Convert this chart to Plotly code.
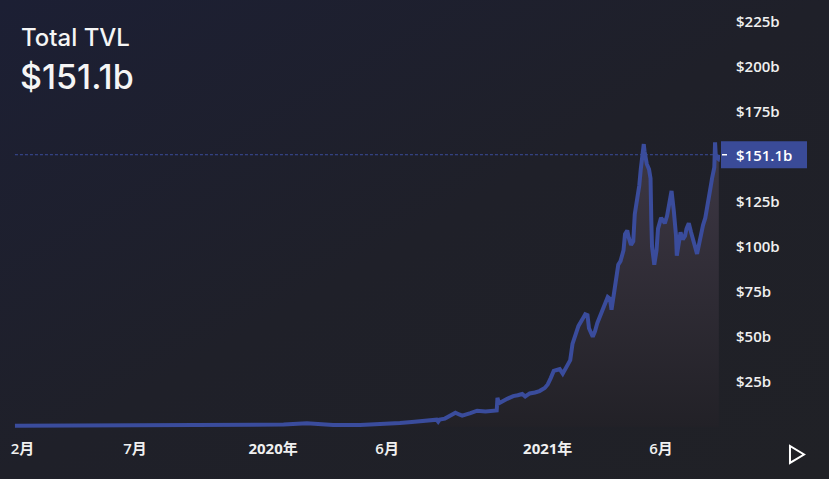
import base64
import plotly.graph_objects as go

# ---- data ----
dates = [
    "2019-01-22", "2019-03-01", "2019-05-01", "2019-07-01", "2019-09-01", "2019-11-01",
    "2019-12-15", "2020-01-15", "2020-02-15", "2020-03-03", "2020-03-13", "2020-03-21",
    "2020-04-26", "2020-06-01", "2020-06-18", "2020-07-04", "2020-07-19", "2020-08-01",
    "2020-08-06", "2020-08-08", "2020-08-10", "2020-08-17", "2020-08-26", "2020-08-31",
    "2020-09-05", "2020-09-09", "2020-09-20", "2020-09-29", "2020-10-10", "2020-10-21",
    "2020-10-25", "2020-10-26", "2020-10-28", "2020-11-08", "2020-11-16", "2020-11-22",
    "2020-11-28", "2020-12-02", "2020-12-08", "2020-12-15", "2020-12-21", "2020-12-28",
    "2021-01-01", "2021-01-05", "2021-01-09", "2021-01-13", "2021-01-17", "2021-01-21",
    "2021-01-25", "2021-01-31", "2021-02-03", "2021-02-07", "2021-02-11", "2021-02-16",
    "2021-02-20", "2021-02-23", "2021-02-25", "2021-03-02", "2021-03-05", "2021-03-08",
    "2021-03-12", "2021-03-15", "2021-03-19", "2021-03-22", "2021-03-25", "2021-03-27",
    "2021-03-31", "2021-04-02", "2021-04-05", "2021-04-08", "2021-04-12", "2021-04-14",
    "2021-04-17", "2021-04-19", "2021-04-22", "2021-04-25", "2021-04-27", "2021-04-30",
    "2021-05-03", "2021-05-05", "2021-05-08", "2021-05-09", "2021-05-10", "2021-05-13",
    "2021-05-16", "2021-05-18", "2021-05-19", "2021-05-20", "2021-05-23", "2021-05-26",
    "2021-05-28", "2021-06-01", "2021-06-03", "2021-06-06", "2021-06-09", "2021-06-11",
    "2021-06-14", "2021-06-15", "2021-06-18", "2021-06-21", "2021-06-22", "2021-06-25",
    "2021-06-27", "2021-06-30", "2021-07-03", "2021-07-05", "2021-07-08", "2021-07-11",
    "2021-07-13", "2021-07-16", "2021-07-19", "2021-07-21", "2021-07-24", "2021-07-27",
    "2021-07-30", "2021-08-01", "2021-08-04", "2021-08-06", "2021-08-08", "2021-08-11",
    "2021-08-12", "2021-08-13", "2021-08-16", "2021-08-17",
]
tvl_billion = [
    0.55, 0.6, 0.7, 0.8, 0.75, 0.8,
    0.9, 1.2, 1.9, 1.6, 0.9, 0.9,
    1.0, 1.5, 2.0, 2.6, 3.3, 3.8,
    3.9, 2.8, 4.0, 4.5, 6.5, 7.8,
    6.8, 6.2, 7.5, 8.9, 8.5, 8.6,
    9.0, 16.0, 13.0, 15.5, 17.0, 17.5,
    18.2, 16.8, 18.5, 19.0, 19.8, 21.5,
    23.5, 27, 31, 31.5, 32, 29.5,
    33, 37, 46, 52, 56, 59.5,
    62.5, 62, 54.7, 50, 53, 57.5,
    62, 65, 70, 72, 71, 65,
    76, 82, 90, 92, 98, 107,
    109, 105, 101, 103, 118, 126,
    134, 143, 152, 157, 153, 146,
    143, 138, 115, 100, 90, 98,
    110, 116, 115, 113, 117, 121,
    128, 131, 120, 106, 95, 104,
    108, 104, 106, 110, 113, 108,
    105, 102, 96, 100, 107, 112,
    116, 122, 127, 133, 138, 144,
    158, 150, 149, 151.1,
]
x_tick_dates = ["2019-02-01", "2019-07-01", "2020-01-01", "2020-06-01", "2021-01-01", "2021-06-01"]
x_tick_labels = ["2月", "7月", "<b>2020年</b>", "6月", "<b>2021年</b>", "6月"]
y_tick_values = [25, 50, 75, 100, 125, 150, 175, 200, 225]
y_tick_labels = ["$25b", "$50b", "$75b", "$100b", "$125b", "", "$175b", "$200b", "$225b"]
title_text = "Total TVL"
current_label = "$151.1b"

LINE = "#3a4c9c"
last_value = tvl_billion[-1]

fig = go.Figure()
fig.add_trace(go.Scatter(
    x=dates, y=tvl_billion, mode="lines",
    line=dict(color=LINE, width=4),
    fill="tozeroy",
    fillgradient=dict(type="vertical", start=0, stop=160,
                      colorscale=[[0, "#222127"], [1, "#3e3845"]]),
    hoverinfo="skip",
))

# background gradient
svg = ('<svg xmlns="http://www.w3.org/2000/svg" width="829" height="479">'
       '<defs><linearGradient id="g" x1="0" y1="0" x2="1" y2="1">'
       '<stop offset="0" stop-color="#1c1f34"/><stop offset="0.5" stop-color="#1f2029"/>'
       '<stop offset="1" stop-color="#202126"/></linearGradient></defs>'
       '<rect width="829" height="479" fill="url(#g)"/></svg>')
src = "data:image/svg+xml;base64," + base64.b64encode(svg.encode()).decode()

shapes = [
    dict(type="line", xref="x", yref="y", x0=dates[0], x1=dates[-1],
         y0=last_value, y1=last_value, line=dict(color=LINE, width=1, dash="3px,2px"),
         layer="above"),
    dict(type="rect", xref="paper", yref="y", xsizemode="pixel", ysizemode="pixel",
         xanchor=1, yanchor=last_value, x0=1, x1=87, y0=-13.5, y1=13.5,
         fillcolor="#3a4b98", line=dict(width=0), layer="above"),
    dict(type="line", xref="paper", yref="y", xsizemode="pixel", xanchor=1,
         x0=2, x1=7, y0=last_value, y1=last_value,
         line=dict(color="#ffffff", width=1.5), layer="above"),
    dict(type="path", xref="paper", yref="paper",
         path="M 1.0972,-0.0372 L 1.0972,-0.0767 L 1.1167,-0.0570 Z",
         line=dict(color="#ffffff", width=2), fillcolor="rgba(0,0,0,0)"),
]

annotations = [
    dict(text=title_text, xref="paper", yref="paper", x=19 / 720, y=(430 - 38) / 430,
         xanchor="left", yanchor="middle", showarrow=False,
         font=dict(family="Inter", size=24, color="#f5f5f5", weight=500)),
    dict(text=current_label, xref="paper", yref="paper", x=18 / 720, y=(430 - 77) / 430,
         xanchor="left", yanchor="middle", showarrow=False,
         font=dict(family="Inter", size=34, color="#f5f5f5", weight=500)),
    dict(text=current_label, xref="paper", yref="y", x=1, y=last_value, xshift=44,
         xanchor="center", yanchor="middle", showarrow=False,
         font=dict(family="Open Sans", size=15, color="#ffffff", weight=600)),
]

fig.update_layout(
    width=829, height=479,
    margin=dict(l=0, r=109, t=0, b=49),
    paper_bgcolor="#202126", plot_bgcolor="rgba(0,0,0,0)",
    showlegend=False,
    images=[dict(source=src, xref="paper", yref="paper", x=0, y=1,
                 sizex=829 / 720, sizey=479 / 430, xanchor="left", yanchor="top",
                 sizing="stretch", layer="below")],
    shapes=shapes, annotations=annotations,
    xaxis=dict(range=["2019-01-02 02:00", "2021-08-18 14:00"],
               tickvals=x_tick_dates, ticktext=x_tick_labels,
               showgrid=False, zeroline=False, showline=False,
               ticks="outside", ticklen=5, tickcolor="rgba(0,0,0,0)",
               tickfont=dict(family="Open Sans, Noto Sans CJK SC", size=15,
                             color="#f0f0f0", weight=600)),
    yaxis=dict(range=[-1.83, 237.06], side="right",
               tickvals=y_tick_values, ticktext=y_tick_labels,
               showgrid=False, zeroline=False, showline=False,
               ticks="outside", ticklen=12, tickcolor="rgba(0,0,0,0)",
               tickfont=dict(family="Open Sans", size=15, color="#f0f0f0", weight=600)),
)

fig.write_html("out.html", config={"displayModeBar": False},
               post_script="document.body.style.margin='0';document.body.style.overflow='hidden';document.body.style.background='#202126';")
